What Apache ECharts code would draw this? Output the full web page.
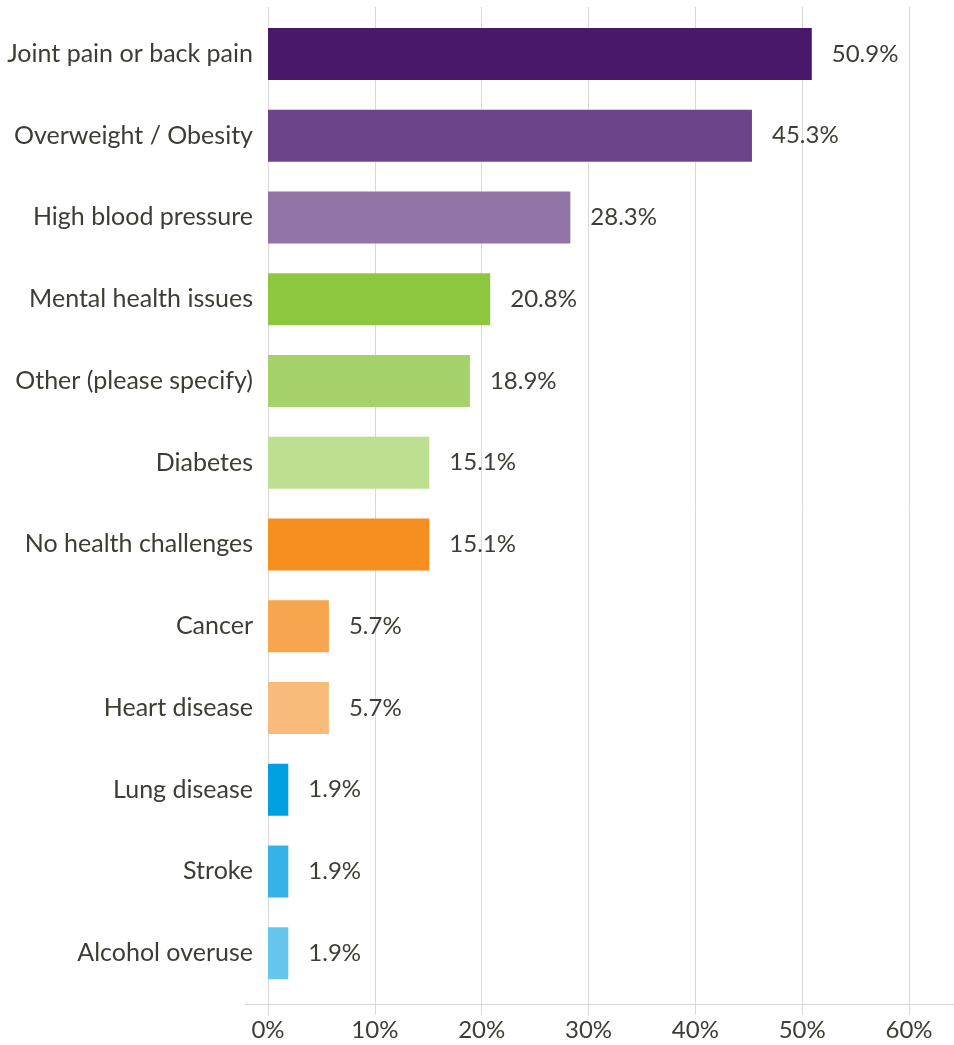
<!DOCTYPE html>
<html>
<head>
<meta charset="utf-8">
<style>
  html, body { margin: 0; padding: 0; background: #ffffff; }
  #chart { width: 954px; height: 1045px; }
</style>
<script src="https://cdn.jsdelivr.net/npm/echarts@6/dist/echarts.min.js"></script>
</head>
<body>
<div id="chart"></div>
<script>
// Health challenges reported, share of respondents (%)
const categories = [
  'Joint pain or back pain',
  'Overweight / Obesity',
  'High blood pressure',
  'Mental health issues',
  'Other (please specify)',
  'Diabetes',
  'No health challenges',
  'Cancer',
  'Heart disease',
  'Lung disease',
  'Stroke',
  'Alcohol overuse'
];
const values = [50.9, 45.3, 28.3, 20.8, 18.9, 15.1, 15.1, 5.7, 5.7, 1.9, 1.9, 1.9];
const barColors = [
  '#4a186b', '#6c4589', '#9275a6',
  '#8dc63f', '#a6d16b', '#bfdf90',
  '#f68e20', '#f8a54f', '#f9bb7c',
  '#00a0e1', '#33b3e8', '#66c6ee'
];
const tickLabels = ['0%', '10%', '20%', '30%', '40%', '50%', '60%'];

const FONT = 'Lato';
const TEXT = '#3d3d35';
const GRID = '#d9d9d9';

const chart = echarts.init(document.getElementById('chart'), null, { renderer: 'canvas' });

chart.setOption({
  animation: false,
  backgroundColor: '#ffffff',
  textStyle: { fontFamily: FONT, color: TEXT },
  grid: [
    // gridlines and percentage axis
    { left: 268, right: 45, top: 7, bottom: 41 },
    // bars and category labels
    { left: 268, right: 45, top: 13, bottom: 51 }
  ],
  xAxis: [
    {
      gridIndex: 0,
      type: 'value',
      min: 0, max: 60, interval: 10,
      axisLine: { show: false },
      axisTick: { show: true, length: 11, lineStyle: { color: GRID } },
      splitLine: { show: true, lineStyle: { color: GRID, width: 1 } },
      axisLabel: {
        margin: 14,
        fontFamily: FONT, fontSize: 24, color: TEXT,
        formatter: (v) => tickLabels[Math.round(v / 10)]
      }
    },
    {
      gridIndex: 1,
      type: 'value',
      min: 0, max: 60,
      show: false
    }
  ],
  yAxis: [
    {
      gridIndex: 0,
      type: 'value',
      min: 0, max: 1,
      show: false
    },
    {
      gridIndex: 1,
      type: 'category',
      data: categories,
      inverse: true,
      axisLine: { show: false },
      axisTick: { show: false },
      splitLine: { show: false },
      axisLabel: {
        margin: 15,
        fontFamily: FONT, fontSize: 25, color: TEXT
      }
    }
  ],
  graphic: [
    {
      type: 'line',
      shape: { x1: 245, y1: 1004.5, x2: 954, y2: 1004.5 },
      style: { stroke: GRID, lineWidth: 1 },
      z: 10
    }
  ],
  series: [
    {
      type: 'bar',
      xAxisIndex: 1,
      yAxisIndex: 1,
      data: values.map((v, i) => ({ value: v, itemStyle: { color: barColors[i] } })),
      barWidth: 52,
      label: {
        show: true,
        position: 'right',
        distance: 20,
        fontFamily: FONT, fontSize: 24, color: TEXT,
        formatter: (p) => p.value.toFixed(1) + '%'
      }
    }
  ]
});
</script>
</body>
</html>
